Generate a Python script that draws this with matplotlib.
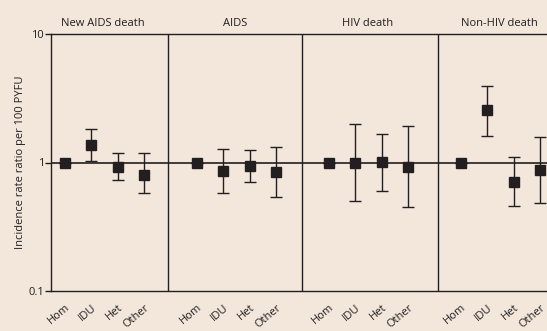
import numpy as np
import matplotlib.pyplot as plt

plt.rcParams['font.family'] = ['Open Sans', 'DejaVu Sans']

panels = ['New AIDS death', 'AIDS', 'HIV death', 'Non-HIV death']
groups = ['Hom', 'IDU', 'Het', 'Other']

# incidence rate ratios with 95% CI, one row per panel
irr = [[1.0, 1.36, 0.93, 0.80],
       [1.0, 0.86, 0.94, 0.85],
       [1.0, 0.99, 1.005, 0.93],
       [1.0, 2.54, 0.71, 0.87]]
lower = [[1.0, 1.03, 0.73, 0.58],
         [1.0, 0.58, 0.71, 0.54],
         [1.0, 0.50, 0.605, 0.447],
         [1.0, 1.61, 0.455, 0.48]]
upper = [[1.0, 1.83, 1.18, 1.18],
         [1.0, 1.27, 1.24, 1.33],
         [1.0, 1.98, 1.68, 1.92],
         [1.0, 3.97, 1.11, 1.58]]

bg = '#f3e7dc'
ink = '#231f20'

fig = plt.figure(figsize=(5.47, 3.31), dpi=100, facecolor=bg)
ax = fig.add_axes([51 / 547, 40 / 331, 496 / 547, 257 / 331], facecolor=bg)

ticks = []
labels = []
for p in range(len(panels)):
    x = np.arange(len(groups)) + 5 * p
    y = np.array(irr[p])
    err = [y - np.array(lower[p]), np.array(upper[p]) - y]
    ax.errorbar(x, y, yerr=err, fmt='s', color=ink, ecolor=ink, ms=7.5,
                elinewidth=1, capsize=4.5, capthick=1, zorder=3)
    ticks += list(x)
    labels += groups
    ax.text(5 * p + 1.45, 11.0, panels[p], ha='center', va='bottom',
            fontsize=8, color=ink)

for xd in [3.9, 8.98, 14.13]:
    ax.axvline(xd, color=ink, lw=1)
ax.axhline(1, color=ink, lw=1.2, zorder=2)

ax.set_yscale('log')
ax.set_ylim(0.1, 10)
ax.set_xlim(-0.53, 18.26)
ax.set_yticks([0.1, 1, 10])
ax.set_yticklabels(['0.1', '1', '10'])
ax.minorticks_off()
ax.tick_params(axis='y', labelsize=8, colors=ink, length=4, width=1, pad=1)
ax.set_xticks(ticks)
ax.set_xticklabels(labels, rotation=40, ha='right', rotation_mode='anchor',
                   fontsize=8, color=ink)
ax.tick_params(axis='x', length=0, pad=8)
ax.set_ylabel('Incidence rate ratio per 100 PYFU', fontsize=8, color=ink,
              labelpad=2)

ax.spines['right'].set_visible(False)
for s in ['left', 'top', 'bottom']:
    ax.spines[s].set_color(ink)
    ax.spines[s].set_linewidth(1)

fig.savefig('out.png', dpi=100, facecolor=bg)
